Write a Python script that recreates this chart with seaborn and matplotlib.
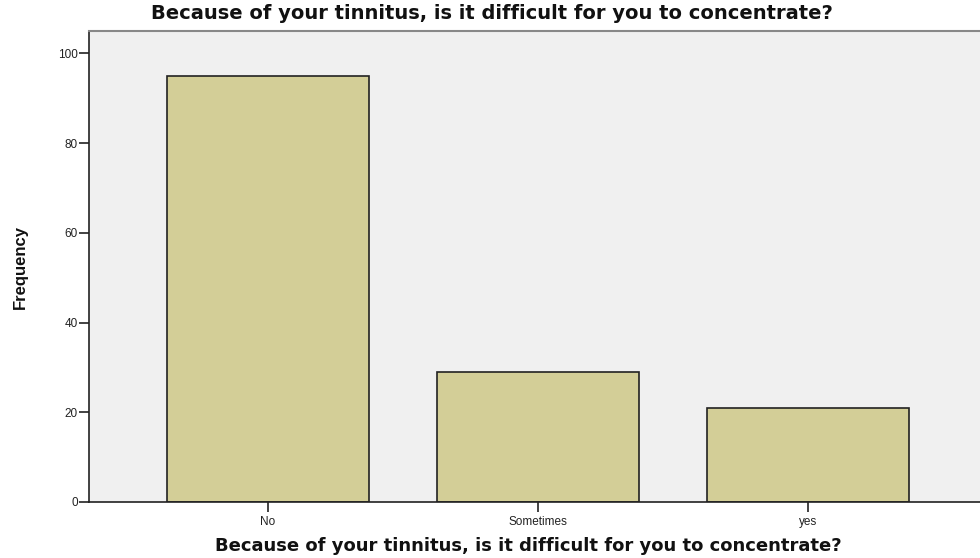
import matplotlib
matplotlib.use('Agg')
import matplotlib.pyplot as plt
import seaborn as sns
import pandas as pd

# data
categories = ['No', 'Sometimes', 'yes']
frequency = [95, 29, 21]
y_ticks = [0, 20, 40, 60, 80, 100]

question = 'Because of your tinnitus, is it difficult for you to concentrate?'

sns.set_style('white')
plt.rcParams['font.family'] = ['Liberation Sans', 'DejaVu Sans']

df = pd.DataFrame({'answer': categories, 'count': frequency})

fig = plt.figure(figsize=(9.8, 5.58), dpi=100)
ax = fig.add_axes([0.0908, 0.1004, 0.9092, 0.844])
ax.set_facecolor('#F0F0F0')

sns.barplot(data=df, x='answer', y='count', color='#D3CE97', width=0.75,
            edgecolor='#222222', linewidth=1.2, saturation=1, ax=ax)

ax.set_xlim(-0.663, 2.637)
ax.set_ylim(0, 105)
ax.set_yticks(y_ticks)
ax.tick_params(axis='both', direction='out', length=7, width=1.2, colors='#222222',
               labelsize=8.5, labelcolor='#222222', bottom=True, left=True, pad=1)
ax.tick_params(axis='x', pad=3)

for side in ['left', 'bottom']:
    ax.spines[side].set_color('#222222')
    ax.spines[side].set_linewidth(1.2)
ax.spines['top'].set_color('#888888')
ax.spines['top'].set_linewidth(1.5)
ax.spines['right'].set_visible(False)

ax.set_ylabel('Frequency', fontsize=12, fontweight='bold',
              family=['Liberation Sans Narrow', 'Liberation Sans'], labelpad=22,
              color='#111111')
ax.set_xlabel('')

fig.text(0.502, 0.975, question, ha='center', va='center', fontsize=14,
         fontweight='bold', family='DejaVu Sans', color='#111111')
fig.text(0.539, 0.022, question, ha='center', va='center', fontsize=13,
         fontweight='bold', family='DejaVu Sans', color='#111111')

plt.savefig('out.png', dpi=100)
plt.close()
